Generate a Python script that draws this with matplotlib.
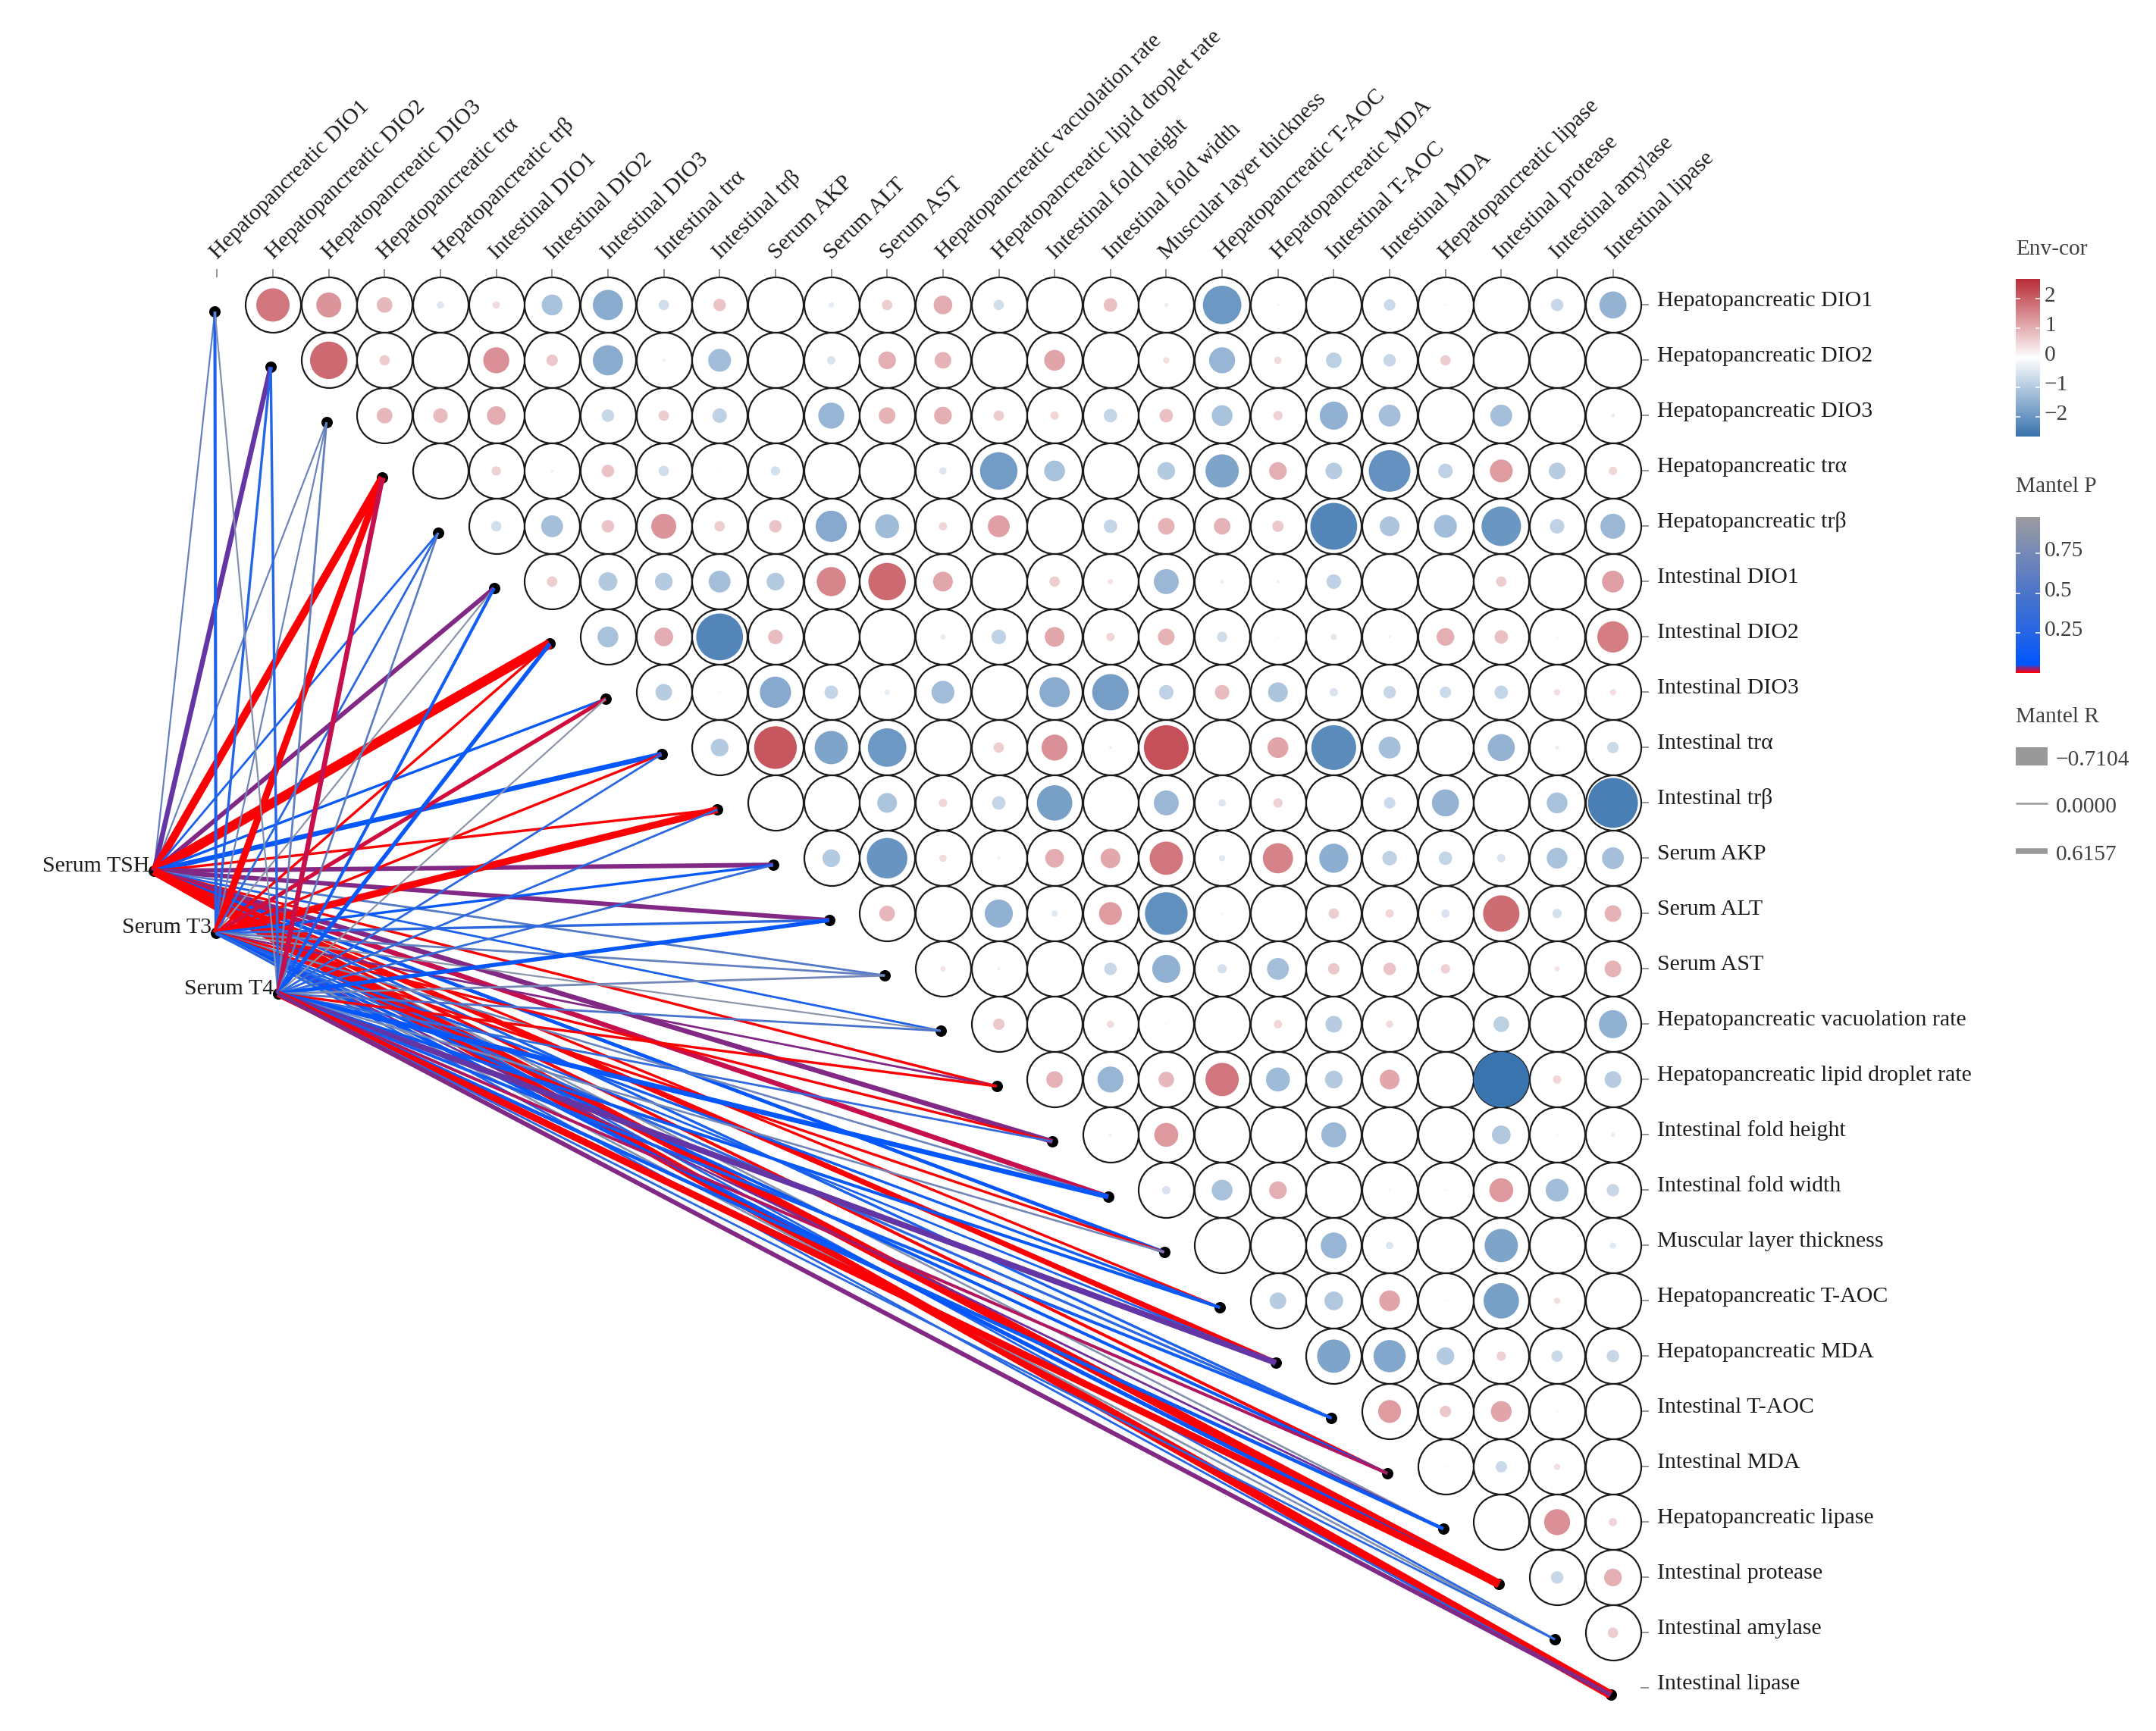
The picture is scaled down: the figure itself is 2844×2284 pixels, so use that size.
"""Mantel links and environmental correlation triangle."""

import matplotlib

matplotlib.use("Agg")
import matplotlib.pyplot as plt
import numpy as np
from matplotlib.collections import LineCollection
from matplotlib.colors import LinearSegmentedColormap
from matplotlib.lines import Line2D

plt.rcParams["font.family"] = ["Liberation Serif", "DejaVu Serif"]

variables = [
    "Hepatopancreatic DIO1", "Hepatopancreatic DIO2", "Hepatopancreatic DIO3",
    "Hepatopancreatic trα", "Hepatopancreatic trβ", "Intestinal DIO1",
    "Intestinal DIO2", "Intestinal DIO3", "Intestinal trα", "Intestinal trβ",
    "Serum AKP", "Serum ALT", "Serum AST", "Hepatopancreatic vacuolation rate",
    "Hepatopancreatic lipid droplet rate", "Intestinal fold height",
    "Intestinal fold width", "Muscular layer thickness", "Hepatopancreatic T-AOC",
    "Hepatopancreatic MDA", "Intestinal T-AOC", "Intestinal MDA",
    "Hepatopancreatic lipase", "Intestinal protease", "Intestinal amylase",
    "Intestinal lipase",
]

# upper triangle, each row starts right of the diagonal
env_cor = [
    [1.6, 1.2, .75, -.35, .35, -1.0, -1.45, -.5, .6, 0, -.25, .5, .9, -.5, 0, .65, -.2, -1.85, .12, 0, -.55, .1, .05, -.6, -1.3],
    [1.8, .5, .05, 1.25, .55, -1.45, .15, -1.1, .05, -.4, .85, .8, 0, 1.0, 0, .3, -1.25, .35, -.75, -.6, .5, 0, 0, -.05],
    [.75, .7, .9, 0, -.6, .5, -.7, 0, -1.25, .8, .85, .5, .4, -.65, .65, -1.0, .45, -1.35, -1.05, 0, -1.05, 0, -.2],
    [0, .45, -.15, .6, -.5, .08, -.45, 0, 0, -.35, -1.8, -1.0, 0, -.85, -1.6, .85, -.8, -2.0, -.7, 1.1, -.8, .4],
    [-.5, -1.05, .6, 1.2, .5, .6, -1.5, -1.15, .4, 1.05, 0, -.65, .8, .8, .55, -2.25, -.95, -1.1, -1.9, -.7, -1.2],
    [.5, -.9, -.85, -1.05, -.85, 1.4, 1.8, .95, 0, .5, .25, -1.2, -.2, .15, -.7, 0, 0, .5, 0, 1.05],
    [-1.0, .9, -2.25, .7, .05, .05, -.25, -.7, .95, .4, .8, -.5, .1, -.3, -.15, .85, .65, .1, 1.5],
    [-.8, .1, -1.5, -.65, -.25, -1.1, 0, -1.45, -1.75, -.7, .7, -.95, -.4, -.6, -.55, -.65, .3, .3],
    [-.85, 2.05, -1.6, -1.85, 0, .5, 1.25, .15, 2.15, .05, 1.0, -2.15, -1.05, .05, -1.3, -.2, -.55],
    [0, .05, -.95, .4, -.65, -1.7, .05, -1.2, -.35, .45, 0, -.55, -1.3, 0, -1.0, -2.4],
    [-.85, -1.95, .35, -.15, .9, .95, 1.6, -.3, 1.45, -1.4, -.7, -.65, -.4, -1.0, -1.05],
    [.75, 0, -1.35, -.3, 1.1, -2.05, .1, 0, .5, .4, -.4, 1.75, -.45, .8],
    [.25, .15, 0, -.6, -1.35, -.45, -1.05, .55, .6, .45, 0, .25, .8],
    [.55, .05, .35, .1, 0, .4, -.8, .35, 0, -.75, .05, -1.35],
    [.8, -1.25, .75, 1.6, -1.15, -.85, .95, 0, -2.66, .4, -.8],
    [.15, 1.15, 0, 0, -1.2, .05, 0, -.9, -.1, .2],
    [-.4, -1.0, .85, .05, .1, .1, 1.15, -1.1, -.6],
    [0, .05, -1.25, -.35, .05, -1.6, 0, -.3],
    [-.8, -.9, 1.0, -.1, -1.7, .3, 0],
    [-1.6, -1.55, -.85, .45, -.55, -.6],
    [1.1, .55, 1.0, .1, 0],
    [.1, -.55, .3, 0],
    [0, 1.25, .4],
    [-.6, .85],
    [.5],
]

sources = ["Serum TSH", "Serum T3", "Serum T4"]
source_x = [-1.13, -0.02, 1.09]
source_y = [10.23, 11.35, 12.45]

# Mantel P per target, one list per source
mantel_p_tsh = [.65, .038, .7, .001, .2, .03, .001, .1, .07, .001, .03, .03, .55,
                .2, .001, .03, .015, .08, .001, .001, .2, .001, .85, .001, .25, .001]
mantel_p_t3 = [.2, .25, .7, .001, .3, .9, .001, .012, .001, .001, .1, .3, .65,
               .9, .03, .001, .7, .001, .15, .2, .3, .1, .035, .07, .85, .25]
mantel_p_t4 = [.85, .25, .65, .015, .6, .15, .1, .9, .3, .3, .35, .07, .75,
               .5, .001, .35, .07, .75, .1, .038, .15, .02, .12, .001, .3, .03]

# Mantel R per target, one list per source
mantel_r_tsh = [0, .29, 0, .54, .04, .25, .71, .08, .29, .08, .25, .25, .04,
                .04, .08, .29, .29, .17, .08, .33, .08, .125, .03, .62, .04, .62]
mantel_r_t3 = [.125, .08, 0, .46, .04, 0, .08, .21, .08, .46, .08, .08, .04,
               0, .04, .08, .03, .08, .08, .04, .08, .125, .04, .21, .03, .04]
mantel_r_t4 = [0, .08, .04, .29, .03, .125, .21, 0, .04, .04, .04, .21, .04,
               .04, .08, .04, .29, .03, .125, .375, .125, .125, .17, .46, .04, .25]

env_ticks = [-2, -1, 0, 1, 2]
p_ticks = [0.25, 0.5, 0.75]
p_range = (0.0, 0.98)
r_breaks = ["\u22120.7104", "0.0000", "0.6157"]

W, H = 2844, 2284
DPI = 200
# grid in pixels of the figure
COL0, COL_STEP = 286.4, 73.65
ROW0, ROW_STEP = 402.4, 73.0
RADIUS = 36.5
LABEL_SIZE = 10.75
LEGEND_SIZE = 10.6
LEGEND_GREY = "#404040"


def px(n):
    return n * 72 / DPI


def fx(x):
    return x / W


def fy(y):
    return 1 - y / H


env_cmap = LinearSegmentedColormap.from_list(
    "env", ["#3A74AE", "#FFFFFF", "#B92E38"]
)
p_stops = [
    (0.0, "#FF0000"), (0.015, "#C4104F"), (0.03, "#7E2A88"), (0.04, "#5A3BB0"),
    (0.05, "#0055FF"), (0.25, "#2565E6"), (0.5, "#4A74CC"), (0.75, "#7388B8"),
    (1.0, "#9C9CA0"),
]
p_cmap = LinearSegmentedColormap.from_list("mantel_p", p_stops, N=1024)


def env_colour(v):
    frac = (abs(v) / 2.66) ** 0.85
    return env_cmap(0.5 + 0.5 * np.sign(v) * frac)


fig = plt.figure(figsize=(W / DPI, H / DPI), dpi=DPI, facecolor="white")
left = COL0 - COL_STEP / 2
bottom = ROW0 + 25.5 * ROW_STEP
ax = fig.add_axes(
    [fx(left), fy(bottom), 26 * COL_STEP / W, 26 * ROW_STEP / H], facecolor="none"
)
ax.set_xlim(-0.5, 25.5)
ax.set_ylim(25.5, -0.5)
for side in ax.spines.values():
    side.set_visible(False)

ax.xaxis.tick_top()
ax.yaxis.tick_right()
ax.set_xticks(range(26))
ax.set_yticks(range(26))
ax.set_xticklabels([])
ax.set_yticklabels([])
ax.tick_params(length=px(11), width=px(1.5), color="#777777")

# node offset of the link ends from the grid
dot_dx, dot_dy = -0.04, 0.12
target_x = np.arange(26) + dot_dx
target_y = np.arange(26) + dot_dy

# triangle
cx, cy, vals = [], [], []
for i, row in enumerate(env_cor):
    for j, v in enumerate(row):
        cx.append(i + 1 + j)
        cy.append(i)
        vals.append(v)
vals = np.array(vals)
outer = (2 * px(RADIUS)) ** 2
ax.scatter(cx, cy, s=outer, facecolor="white", edgecolor="#1a1a1a",
           linewidth=px(2.2), zorder=2, clip_on=False)
inner = (2 * px(RADIUS) * np.abs(vals) / 2.66) ** 2
ax.scatter(cx, cy, s=inner, c=[env_colour(v) for v in vals], linewidth=0,
           zorder=3, clip_on=False)

# link ends, lines go over them
ax.scatter(target_x, target_y, s=(2 * px(7.5)) ** 2, c="black", linewidth=0,
           zorder=4, clip_on=False)
ax.scatter(source_x, source_y, s=(2 * px(7.5)) ** 2, c="black", linewidth=0,
           zorder=4, clip_on=False)

p_lists = [mantel_p_tsh, mantel_p_t3, mantel_p_t4]
r_lists = [mantel_r_tsh, mantel_r_t3, mantel_r_t4]
for k in range(3):
    segs = [[(source_x[k], source_y[k]), (tx, ty)] for tx, ty in zip(target_x, target_y)]
    widths = [px(2.2 + 15 * r) for r in r_lists[k]]
    lc = LineCollection(segs, colors=[p_cmap(p) for p in p_lists[k]],
                        linewidths=widths, zorder=5 + k, capstyle="butt", clip_on=False)
    ax.add_collection(lc)

# labels
for i, name in enumerate(variables):
    ax.annotate(name, (25.5, i), xytext=(px(22), px(5.5)), textcoords="offset points",
                ha="left", va="center", fontsize=LABEL_SIZE, color="#1c1c1c",
                annotation_clip=False)
    ax.annotate(name, (i, -0.5), xytext=(px(5), px(19)), textcoords="offset points",
                ha="left", va="bottom", rotation=45, rotation_mode="anchor",
                fontsize=LABEL_SIZE, color="#1c1c1c", annotation_clip=False)
for k, name in enumerate(sources):
    ax.annotate(name, (source_x[k], source_y[k]), xytext=(px(-6), px(6.5)),
                textcoords="offset points", ha="right", va="center",
                fontsize=LABEL_SIZE, color="#1c1c1c", annotation_clip=False)


def colour_bar(top, low, cmap, vrange, ticks, ticklabels, title, title_y):
    cax = fig.add_axes([fx(2659), fy(low), (2691 - 2659) / W, (low - top) / H])
    grad = np.linspace(vrange[0], vrange[1], 400)[:, None]
    cax.imshow(grad, origin="lower", aspect="auto", cmap=cmap,
               extent=(0, 1, vrange[0], vrange[1]), vmin=vrange[0], vmax=vrange[1])
    cax.set_xticks([])
    cax.set_yticks([])
    cax.hlines(ticks, 0, 0.2, color="white", linewidth=px(1.5))
    cax.hlines(ticks, 0.8, 1, color="white", linewidth=px(1.5))
    for t, lab in zip(ticks, ticklabels):
        cax.annotate(lab, (1, t), xytext=(px(6), px(3)), textcoords="offset points",
                     ha="left", va="center", fontsize=LEGEND_SIZE, color=LEGEND_GREY,
                     annotation_clip=False)
    for side in cax.spines.values():
        side.set_visible(False)
    fig.text(fx(2659), fy(title_y), title, ha="left", va="center",
             fontsize=LEGEND_SIZE, color=LEGEND_GREY)
    return cax


env_labels = [f"{t}".replace("-", "\u2212") for t in env_ticks]
colour_bar(368, 576, env_cmap, (-2.66, 2.66), env_ticks, env_labels, "Env-cor", 329)
colour_bar(682, 888, p_cmap, p_range, p_ticks, ["0.25", "0.5", "0.75"], "Mantel P", 642)

fig.text(fx(2659), fy(946), "Mantel R", ha="left", va="center",
         fontsize=LEGEND_SIZE, color=LEGEND_GREY)
for y, w, lab in zip([998, 1060, 1123], [24, 2.5, 7.5], r_breaks):
    fig.add_artist(Line2D([fx(2659), fx(2701)], [fy(y), fy(y)], color="#999999",
                          linewidth=px(w), solid_capstyle="butt"))
    fig.text(fx(2712), fy(y + 5), lab, ha="left", va="center",
             fontsize=LEGEND_SIZE, color=LEGEND_GREY)

fig.savefig("out.png", dpi=DPI)
